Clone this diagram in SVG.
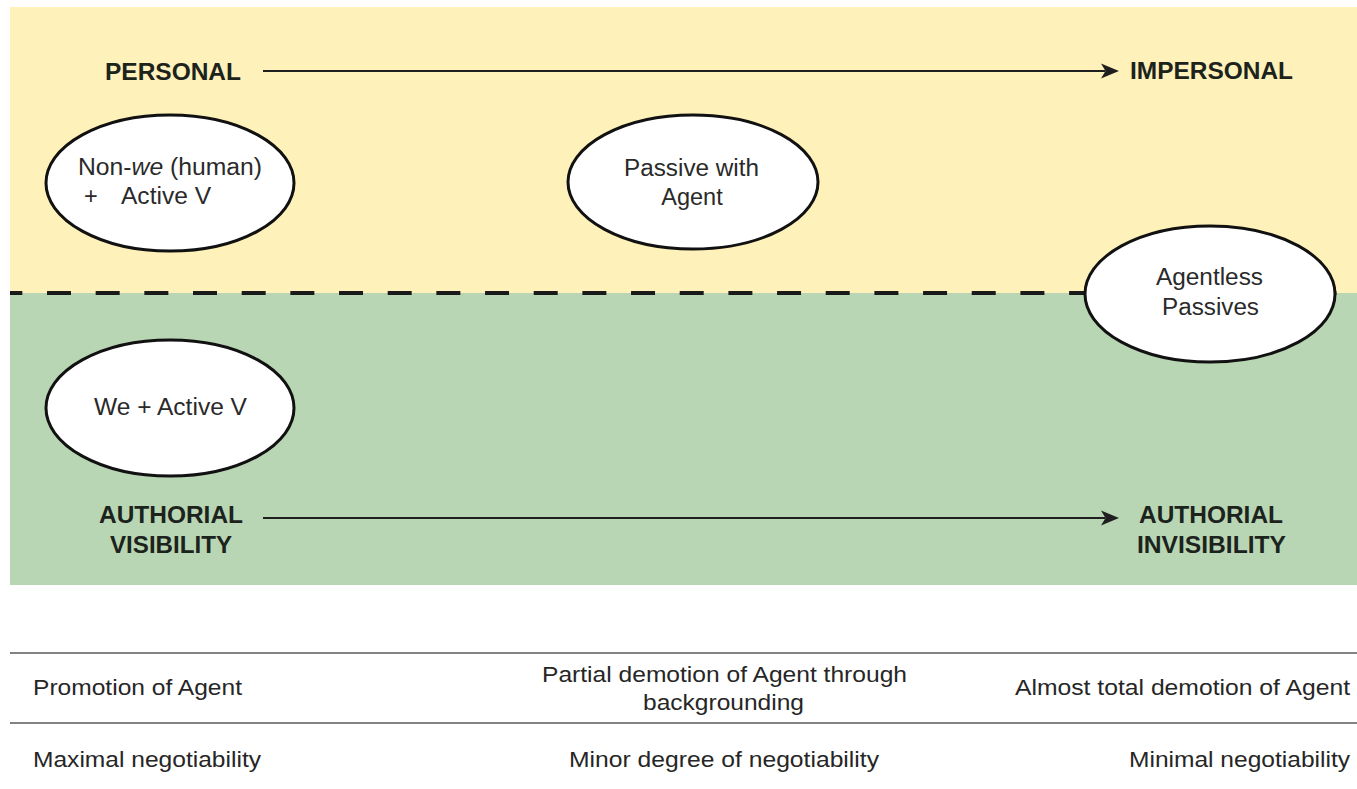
<svg xmlns="http://www.w3.org/2000/svg" width="1357" height="789" viewBox="0 0 1357 789">
  <style>
    .band-top { fill: #fef1b9; }
    .band-bottom { fill: #b8d6b3; }
    .divider { stroke: #1a1a1a; stroke-width: 4; stroke-dasharray: 24 24.67; stroke-dashoffset: 11.67; fill: none; }
    .axis { stroke: #1f1f1f; stroke-width: 2; fill: none; }
    .bubble { fill: #ffffff; stroke: #111111; stroke-width: 3; }
    .pole { font-family: "Liberation Sans", Arial, sans-serif; font-weight: bold; font-size: 23.5px; fill: #1c231c; }
    .label { font-family: "Liberation Sans", Arial, sans-serif; font-size: 23.5px; fill: #2a2a2a; }
    .row { font-family: "Liberation Sans", Arial, sans-serif; font-size: 22.5px; fill: #262626; }
    .rule { stroke: #5a5a5a; stroke-width: 1.6; }
  </style>
  <defs>
    <marker id="arrowhead" markerUnits="userSpaceOnUse" markerWidth="20" markerHeight="16" refX="4" refY="8" orient="auto">
      <path d="M0,0.5 L18,8 L0,15.5 L4.5,8 Z" fill="#1f1f1f"/>
    </marker>
  </defs>

  <rect width="1357" height="789" fill="#ffffff"/>

  <!-- background bands -->
  <rect class="band-top" x="10" y="7" width="1347" height="286"/>
  <rect class="band-bottom" x="10" y="293" width="1347" height="292"/>

  <!-- axis labels -->
  <g id="pole-personal">
    <text class="pole" x="105" y="80" textLength="136" lengthAdjust="spacingAndGlyphs">PERSONAL</text>
  </g>
  <g id="pole-impersonal">
    <text class="pole" x="1130" y="79" textLength="163" lengthAdjust="spacingAndGlyphs">IMPERSONAL</text>
  </g>
  <g id="pole-visibility">
    <text class="pole" x="99" y="523" textLength="144" lengthAdjust="spacingAndGlyphs">AUTHORIAL</text>
    <text class="pole" x="110" y="553" textLength="122" lengthAdjust="spacingAndGlyphs">VISIBILITY</text>
  </g>
  <g id="pole-invisibility">
    <text class="pole" x="1139" y="523" textLength="144" lengthAdjust="spacingAndGlyphs">AUTHORIAL</text>
    <text class="pole" x="1137" y="553" textLength="149" lengthAdjust="spacingAndGlyphs">INVISIBILITY</text>
  </g>

  <!-- connectors: scale arrows and the band divider -->
  <g id="connectors">
    <path class="axis" d="M263,71 H1105" marker-end="url(#arrowhead)"/>
    <path class="axis" d="M263,518 H1105" marker-end="url(#arrowhead)"/>
    <path class="divider" d="M10,293 H1357"/>
  </g>

  <!-- nodes -->
  <g id="node-nonwe">
    <ellipse class="bubble" cx="170" cy="183" rx="124" ry="68"/>
    <text class="label" y="175"><tspan x="78" textLength="184" lengthAdjust="spacingAndGlyphs">Non-<tspan font-style="italic">we</tspan> (human)</tspan></text>
    <text class="label" y="204"><tspan x="84">+</tspan><tspan x="121" textLength="90" lengthAdjust="spacingAndGlyphs">Active V</tspan></text>
  </g>
  <g id="node-passive-agent">
    <ellipse class="bubble" cx="693" cy="182" rx="125" ry="67"/>
    <text class="label" x="624" y="176" textLength="135" lengthAdjust="spacingAndGlyphs">Passive with</text>
    <text class="label" x="692" y="205" text-anchor="middle">Agent</text>
  </g>
  <g id="node-agentless">
    <ellipse class="bubble" cx="1210" cy="294" rx="125" ry="68"/>
    <text class="label" x="1156" y="285" textLength="107" lengthAdjust="spacingAndGlyphs">Agentless</text>
    <text class="label" x="1162" y="315" textLength="97" lengthAdjust="spacingAndGlyphs">Passives</text>
  </g>
  <g id="node-we">
    <ellipse class="bubble" cx="170" cy="408" rx="124" ry="68"/>
    <text class="label" x="94" y="415" textLength="153" lengthAdjust="spacingAndGlyphs">We + Active V</text>
  </g>

  <!-- summary table -->
  <g id="summary-table">
    <line class="rule" x1="10" y1="653" x2="1357" y2="653"/>
    <line class="rule" x1="10" y1="723" x2="1357" y2="723"/>
    <text class="row" x="33" y="695" textLength="209" lengthAdjust="spacingAndGlyphs">Promotion of Agent</text>
    <text class="row" x="542" y="682" textLength="365" lengthAdjust="spacingAndGlyphs">Partial demotion of Agent through</text>
    <text class="row" x="643" y="710" textLength="161" lengthAdjust="spacingAndGlyphs">backgrounding</text>
    <text class="row" x="1015" y="695" textLength="335" lengthAdjust="spacingAndGlyphs">Almost total demotion of Agent</text>
    <text class="row" x="33" y="767" textLength="228" lengthAdjust="spacingAndGlyphs">Maximal negotiability</text>
    <text class="row" x="569" y="767" textLength="310" lengthAdjust="spacingAndGlyphs">Minor degree of negotiability</text>
    <text class="row" x="1129" y="767" textLength="221" lengthAdjust="spacingAndGlyphs">Minimal negotiability</text>
  </g>
</svg>
